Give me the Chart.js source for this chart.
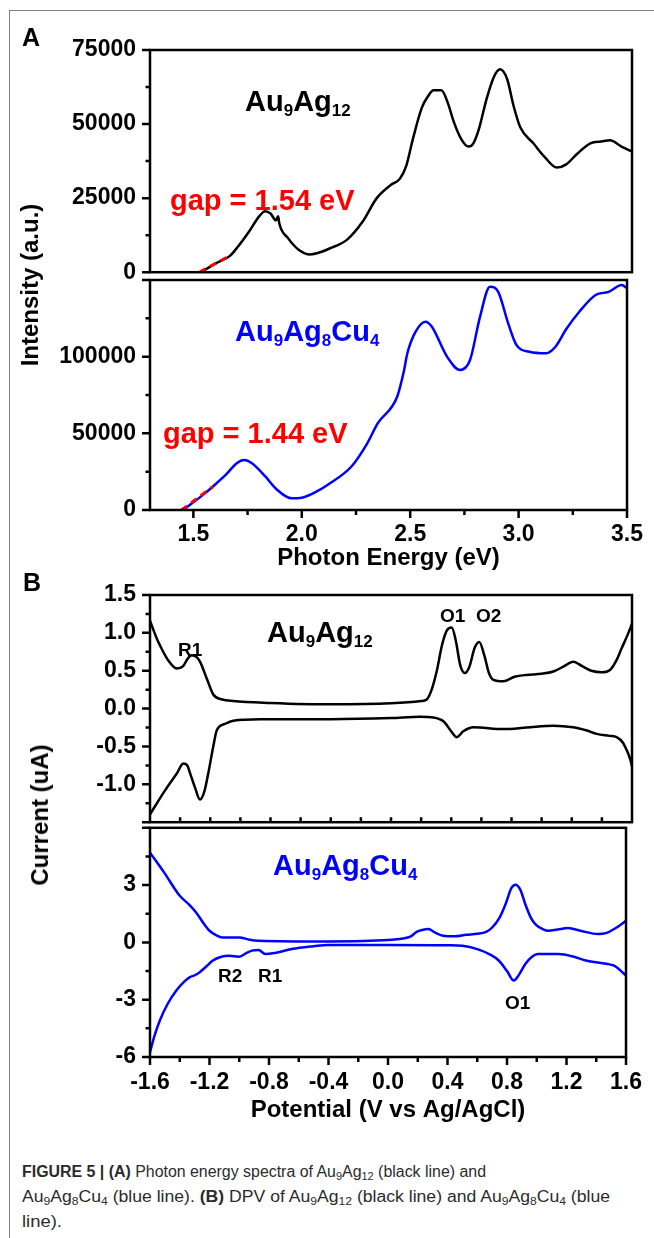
<!DOCTYPE html>
<html>
<head>
<meta charset="utf-8">
<script src="https://cdn.jsdelivr.net/npm/chart.js@4.4.0/dist/chart.umd.min.js"></script>
<style>
  html, body { margin: 0; padding: 0; background: #fff; }
  body { width: 654px; height: 1238px; position: relative; overflow: hidden;
         font-family: "Liberation Sans", Arial, Helvetica, sans-serif; }
  .frame { position: absolute; left: 9px; top: 10px; right: -2px; bottom: -2px;
           border-left: 1px solid #808080; border-top: 1px solid #808080; }
  canvas { position: absolute; left: 0; }
  .t { position: absolute; line-height: 0; white-space: nowrap; font-weight: bold; }
  .big sub { font-size: 17px; vertical-align: -5px; line-height: 0; }
  .yt { position: absolute; white-space: nowrap; font-weight: bold; font-size: 24px; line-height: 1;
        transform: translate(-50%, -50%) rotate(-90deg); }
  .cap { font-weight: normal; color: #2b2b2b; transform-origin: 0 0;
         font-family: "Liberation Sans Narrow", "Liberation Sans", Arial, sans-serif; }
  .cap b { font-weight: bold; }
  .cap sub { font-size: 11px; vertical-align: -3px; line-height: 0; }
</style>
</head>
<body>
<div class="frame"></div>
<canvas id="a1" width="654" height="300" style="top:0px"></canvas>
<canvas id="a2" width="654" height="330" style="top:250px"></canvas>
<canvas id="b1" width="654" height="290" style="top:560px"></canvas>
<canvas id="b2" width="654" height="340" style="top:800px"></canvas>
<script>
// ---------- data ----------

// panel A, x axis (photon energy, eV)
const energyTicks = [1.5, 2.0, 2.5, 3.0, 3.5];
const energyLabels = ['1.5', '2.0', '2.5', '3.0', '3.5'];
const energyMinor = [1.75, 2.25, 2.75, 3.25];

// panel A, y axes (intensity)
const au12IntTicks = [0, 25000, 50000, 75000];
const au12IntLabels = ['0', '25000', '50000', '75000'];
const au12IntMinor = [12500, 37500, 62500];
const cu4IntTicks = [0, 50000, 100000];
const cu4IntLabels = ['0', '50000', '100000'];
const cu4IntMarks = [0, 50000, 100000, 150000];
const cu4IntMinor = [25000, 75000, 125000];

// panel B, x axis (potential, V vs Ag/AgCl)
const potTicks = [-1.6, -1.2, -0.8, -0.4, 0, 0.4, 0.8, 1.2, 1.6];
const potLabels = ['-1.6', '-1.2', '-0.8', '-0.4', '0.0', '0.4', '0.8', '1.2', '1.6'];
const potMinor = [-1.4, -1.0, -0.6, -0.2, 0.2, 0.6, 1.0, 1.4];
const potInner = [-1.4, -1.2, -1.0, -0.8, -0.6, -0.4, -0.2, 0, 0.2, 0.4, 0.6, 0.8, 1.0, 1.2, 1.4];

// panel B, y axes (current, uA)
const au12CurTicks = [-1.0, -0.5, 0, 0.5, 1.0, 1.5];
const au12CurLabels = ['-1.0', '-0.5', '0.0', '0.5', '1.0', '1.5'];
const au12CurMarks = [-1.5, -1.0, -0.5, 0, 0.5, 1.0, 1.5];
const au12CurMinor = [-1.25, -0.75, -0.25, 0.25, 0.75, 1.25];
const cu4CurTicks = [-6, -3, 0, 3];
const cu4CurLabels = ['-6', '-3', '0', '3'];
const cu4CurMarks = [-6, -3, 0, 3, 6];
const cu4CurMinor = [-4.5, -1.5, 1.5, 4.5];

// Au9Ag12 photon energy spectrum
const au12Energy = [1.53, 1.56, 1.60, 1.665, 1.70, 1.75, 1.80, 1.825, 1.85, 1.875,
  1.885, 1.89, 1.93, 1.98, 2.03, 2.08, 2.12, 2.20, 2.27, 2.335,
  2.40, 2.44, 2.47, 2.50, 2.54, 2.57, 2.594, 2.63, 2.66, 2.685,
  2.72, 2.754, 2.776, 2.80, 2.837, 2.87, 2.898, 2.93, 2.96, 2.99,
  3.05, 3.10, 3.157, 3.20, 3.25, 3.31, 3.36, 3.40, 3.45, 3.50];
const au12Intensity = [0, 1200, 3000, 5500, 8500, 13500, 19000, 20600, 19800, 17500,
  18900, 16500, 11500, 7500, 6000, 6800, 8000, 11000, 17000, 25000,
  29500, 31500, 36000, 45000, 55400, 59500, 61400, 61400, 57000, 51100,
  45000, 42400, 43500, 48000, 58700, 66000, 68500, 65200, 56000, 48900,
  43500, 39000, 35300, 36400, 40000, 43500, 44100, 44500, 42500, 40750];
const au12GapEnergy = [1.525, 1.665];
const au12GapIntensity = [0, 5600];

// Au9Ag8Cu4 photon energy spectrum
const cu4Energy = [1.452, 1.50, 1.55, 1.589, 1.65, 1.70, 1.734, 1.77, 1.833, 1.88,
  1.954, 2.00, 2.08, 2.12, 2.228, 2.30, 2.35, 2.44, 2.47, 2.487,
  2.525, 2.571, 2.60, 2.67, 2.73, 2.776, 2.822, 2.868, 2.906, 2.952,
  2.99, 3.05, 3.127, 3.17, 3.22, 3.28, 3.355, 3.415, 3.476, 3.50];
const cu4Intensity = [0, 5000, 10500, 15200, 23000, 30500, 32600, 30500, 21700, 14000,
  7600, 8000, 13000, 16500, 28200, 43000, 56500, 73900, 90000, 102200,
  116300, 122800, 119500, 100000, 91300, 97800, 126000, 145600, 142300, 121700,
  107600, 103200, 102200, 106500, 118000, 129300, 140200, 142300, 146700, 144600];
const cu4GapEnergy = [1.445, 1.59];
const cu4GapIntensity = [0, 15200];

// Au9Ag12 DPV (upper = oxidation scan, lower = reduction scan)
const au12PotOx = [-1.60, -1.56, -1.534, -1.48, -1.423, -1.38, -1.35, -1.323, -1.29, -1.268,
  -1.22, -1.18, -1.12, -1.047, -0.80, -0.40, 0.00, 0.20, 0.237, 0.27,
  0.303, 0.34, 0.37, 0.403, 0.43, 0.46, 0.49, 0.52, 0.555, 0.586,
  0.62, 0.65, 0.68, 0.746, 0.82, 0.90, 1.00, 1.078, 1.15, 1.21,
  1.27, 1.33, 1.40, 1.454, 1.50, 1.53, 1.57, 1.60];
const au12CurOx = [1.16, 0.95, 0.835, 0.64, 0.53, 0.56, 0.66, 0.705, 0.68, 0.62,
  0.38, 0.186, 0.12, 0.10, 0.075, 0.056, 0.07, 0.10, 0.12, 0.25,
  0.49, 0.85, 1.03, 1.07, 0.90, 0.57, 0.47, 0.55, 0.80, 0.88,
  0.70, 0.47, 0.38, 0.36, 0.42, 0.445, 0.46, 0.49, 0.56, 0.62,
  0.56, 0.50, 0.48, 0.51, 0.65, 0.79, 0.97, 1.12];
const au12PotRed = [-1.60, -1.50, -1.42, -1.379, -1.35, -1.334, -1.30, -1.268, -1.24, -1.213,
  -1.18, -1.157, -1.10, -1.047, -0.87, -0.40, 0.00, 0.193, 0.28, 0.35,
  0.40, 0.437, 0.48, 0.547, 0.746, 0.90, 1.078, 1.21, 1.30, 1.366,
  1.45, 1.498, 1.54, 1.565, 1.59, 1.60];
const au12CurRed = [-1.395, -1.08, -0.85, -0.725, -0.76, -0.853, -1.05, -1.20, -1.10, -0.853,
  -0.50, -0.29, -0.20, -0.16, -0.14, -0.14, -0.125, -0.108, -0.117, -0.17,
  -0.30, -0.377, -0.30, -0.247, -0.27, -0.25, -0.225, -0.247, -0.29, -0.334,
  -0.36, -0.377, -0.45, -0.55, -0.68, -0.766];

// Au9Ag8Cu4 DPV
const cu4PotOx = [-1.60, -1.50, -1.40, -1.34, -1.29, -1.24, -1.20, -1.15, -1.113, -1.00,
  -0.93, -0.87, -0.40, 0.00, 0.10, 0.15, 0.193, 0.23, 0.27, 0.32,
  0.37, 0.45, 0.525, 0.60, 0.66, 0.70, 0.75, 0.79, 0.83, 0.857,
  0.89, 0.923, 0.96, 0.99, 1.04, 1.078, 1.14, 1.21, 1.30, 1.41,
  1.47, 1.52, 1.56, 1.60];
const cu4CurOx = [4.70, 3.6, 2.44, 2.0, 1.57, 1.0, 0.61, 0.35, 0.26, 0.26,
  0.14, 0.09, 0.05, 0.12, 0.20, 0.30, 0.55, 0.65, 0.70, 0.50,
  0.35, 0.32, 0.40, 0.45, 0.55, 0.78, 1.3, 2.0, 2.85, 3.02,
  2.75, 2.0, 1.3, 0.96, 0.70, 0.61, 0.68, 0.75, 0.60, 0.44,
  0.50, 0.70, 0.90, 1.13];
const cu4PotRed = [-1.60, -1.57, -1.534, -1.48, -1.423, -1.37, -1.334, -1.30, -1.268, -1.22,
  -1.18, -1.12, -1.069, -1.00, -0.95, -0.914, -0.87, -0.825, -0.76, -0.648,
  -0.50, -0.405, 0.00, 0.40, 0.50, 0.60, 0.68, 0.746, 0.80, 0.846,
  0.88, 0.923, 0.96, 1.01, 1.144, 1.25, 1.33, 1.41, 1.47, 1.52,
  1.56, 1.60];
const cu4CurRed = [-5.75, -4.9, -4.09, -3.2, -2.52, -2.05, -1.83, -1.72, -1.57, -1.25,
  -0.96, -0.75, -0.70, -0.75, -0.55, -0.43, -0.40, -0.61, -0.55, -0.35,
  -0.20, -0.13, -0.13, -0.15, -0.18, -0.35, -0.61, -0.96, -1.5, -2.0,
  -1.7, -1.13, -0.80, -0.61, -0.61, -0.75, -0.95, -1.05, -1.12, -1.22,
  -1.45, -1.74];

// ---------- chart setup ----------

Chart.defaults.font.family = '"Liberation Sans", Arial, Helvetica, sans-serif';
Chart.defaults.color = '#000';

const tickFont = { size: 23, weight: 'bold' };
const titleFont = { size: 24, weight: 'bold' };
const BLACK = '#000000', BLUE = '#0000ff', RED = '#ff0000';

// frame + tick marks, placed with the chart's own scales
const frameTicks = {
  id: 'frameTicks',
  afterDraw(chart, args, o) {
    const { ctx, chartArea: a, scales: { x, y } } = chart;
    ctx.save();
    ctx.strokeStyle = '#000';
    ctx.lineWidth = 2.5;
    ctx.beginPath();
    (o.yMajor || []).forEach(v => { const p = y.getPixelForValue(v); ctx.moveTo(a.left, p); ctx.lineTo(a.left - 8, p); });
    (o.yMinor || []).forEach(v => { const p = y.getPixelForValue(v); ctx.moveTo(a.left, p); ctx.lineTo(a.left - 4.5, p); });
    (o.xMajor || []).forEach(v => { const p = x.getPixelForValue(v); ctx.moveTo(p, a.bottom); ctx.lineTo(p, a.bottom + 8); });
    (o.xMinor || []).forEach(v => { const p = x.getPixelForValue(v); ctx.moveTo(p, a.bottom); ctx.lineTo(p, a.bottom + 5); });
    (o.xInner || []).forEach(v => { const p = x.getPixelForValue(v); ctx.moveTo(p, a.bottom); ctx.lineTo(p, a.bottom - 5); });
    ctx.stroke();
    ctx.strokeRect(a.left, a.top, a.right - a.left, a.bottom - a.top);
    ctx.restore();
  }
};

function pts(xs, ys) { return xs.map((x, i) => ({ x: x, y: ys[i] })); }

function series(xs, ys, color, dashed) {
  return {
    data: pts(xs, ys),
    borderColor: color,
    borderWidth: dashed ? 3 : 2.5,
    borderDash: dashed ? [7, 5] : [],
    pointRadius: 0,
    tension: 0,
    cubicInterpolationMode: dashed ? 'default' : 'monotone',
    fill: false
  };
}

function makePanel(id, o) {
  return new Chart(document.getElementById(id), {
    type: 'line',
    data: { datasets: o.datasets },
    options: {
      responsive: false,
      animation: false,
      events: [],
      layout: { padding: { left: 0, right: 22, top: o.padTop, bottom: o.padBottom } },
      plugins: { legend: { display: false }, tooltip: { enabled: false }, frameTicks: o.frame },
      scales: {
        x: {
          type: 'linear', min: o.xMin, max: o.xMax,
          afterBuildTicks: s => { s.ticks = o.xTicks.map(v => ({ value: v })); },
          afterFit: s => { s.height = o.xHeight; },
          grid: { display: false, drawTicks: false },
          border: { display: false },
          ticks: { display: !!o.xLabels, autoSkip: false, maxRotation: 0, padding: o.xPad || 0,
                   font: tickFont, callback: (v, i) => (o.xLabels ? o.xLabels[i] : '') },
          title: { display: !!o.xTitle, text: o.xTitle || '', font: titleFont, padding: { top: 4, bottom: 4 } }
        },
        y: {
          type: 'linear', min: o.yMin, max: o.yMax,
          afterBuildTicks: s => { s.ticks = o.yTicks.map(v => ({ value: v })); },
          afterFit: s => { s.width = 150; },
          grid: { display: false, drawTicks: false },
          border: { display: false },
          ticks: { autoSkip: false, padding: 14, font: tickFont, callback: (v, i) => o.yLabels[i] }
        }
      }
    },
    plugins: [frameTicks]
  });
}

// A, top: Au9Ag12
makePanel('a1', {
  padTop: 50, padBottom: 20, xHeight: 0,
  xMin: 1.3, xMax: 3.5, xTicks: energyTicks, xLabels: null,
  yMin: 0, yMax: 75000, yTicks: au12IntTicks, yLabels: au12IntLabels,
  frame: { yMajor: au12IntTicks, yMinor: au12IntMinor },
  datasets: [series(au12GapEnergy, au12GapIntensity, RED, true),
             series(au12Energy, au12Intensity, BLACK)]
});

// A, bottom: Au9Ag8Cu4
makePanel('a2', {
  padTop: 30, padBottom: 3, xHeight: 67, xPad: 11,
  xMin: 1.3, xMax: 3.5, xTicks: energyTicks, xLabels: energyLabels, xTitle: 'Photon Energy (eV)',
  yMin: 0, yMax: 150000, yTicks: cu4IntTicks, yLabels: cu4IntLabels,
  frame: { yMajor: cu4IntMarks, yMinor: cu4IntMinor, xMajor: energyTicks, xMinor: energyMinor },
  datasets: [series(cu4GapEnergy, cu4GapIntensity, RED, true),
             series(cu4Energy, cu4Intensity, BLUE)]
});

// B, top: Au9Ag12
makePanel('b1', {
  padTop: 35, padBottom: 23, xHeight: 0,
  xMin: -1.6, xMax: 1.6, xTicks: potTicks, xLabels: null,
  yMin: -1.5, yMax: 1.5, yTicks: au12CurTicks, yLabels: au12CurLabels,
  frame: { yMajor: au12CurMarks, yMinor: au12CurMinor, xInner: potInner },
  datasets: [series(au12PotOx, au12CurOx, BLACK), series(au12PotRed, au12CurRed, BLACK)]
});

// B, bottom: Au9Ag8Cu4
makePanel('b2', {
  padTop: 27, padBottom: 11, xHeight: 72, xPad: 12,
  xMin: -1.6, xMax: 1.6, xTicks: potTicks, xLabels: potLabels, xTitle: 'Potential (V vs Ag/AgCl)',
  yMin: -6, yMax: 6, yTicks: cu4CurTicks, yLabels: cu4CurLabels,
  frame: { yMajor: cu4CurMarks, yMinor: cu4CurMinor, xMajor: potTicks, xMinor: potMinor },
  datasets: [series(cu4PotOx, cu4CurOx, BLUE), series(cu4PotRed, cu4CurRed, BLUE)]
});

// ---------- text ----------

function addText(html, left, baseline, size, color, cls) {
  const d = document.createElement('div');
  d.className = 't ' + (cls || '');
  d.innerHTML = html;
  d.style.left = left + 'px';
  d.style.top = (baseline - 0.3465 * size) + 'px';
  d.style.fontSize = size + 'px';
  d.style.color = color;
  document.body.appendChild(d);
  return d;
}

function addYTitle(text, cx, cy) {
  const d = document.createElement('div');
  d.className = 'yt';
  d.textContent = text;
  d.style.left = cx + 'px';
  d.style.top = cy + 'px';
  document.body.appendChild(d);
}

addText('A', 22, 46, 25, BLACK);
addText('B', 23, 591, 25, BLACK);
addYTitle('Intensity (a.u.)', 30, 285);
addYTitle('Current (uA)', 40, 815);

addText('Au<sub>9</sub>Ag<sub>12</sub>', 245, 111, 29, BLACK, 'big');
addText('gap = 1.54 eV', 170, 210, 29, RED);
addText('Au<sub>9</sub>Ag<sub>8</sub>Cu<sub>4</sub>', 235, 341, 29, BLUE, 'big');
addText('gap = 1.44 eV', 163, 443, 29, RED);

addText('Au<sub>9</sub>Ag<sub>12</sub>', 267, 642, 29, BLACK, 'big');
addText('R1', 178, 657, 19, BLACK);
addText('O1', 440, 623, 19, BLACK);
addText('O2', 476, 623, 19, BLACK);
addText('Au<sub>9</sub>Ag<sub>8</sub>Cu<sub>4</sub>', 273, 875, 29, BLUE, 'big');
addText('R2', 218, 983, 19, BLACK);
addText('R1', 258, 983, 19, BLACK);
addText('O1', 505, 1010, 19, BLACK);

// caption, each line squeezed to the width it has in the original
const capLines = [
  '<b>FIGURE 5 | (A)</b> Photon energy spectra of Au<sub>9</sub>Ag<sub>12</sub> (black line) and',
  'Au<sub>9</sub>Ag<sub>8</sub>Cu<sub>4</sub> (blue line). <b>(B)</b> DPV of Au<sub>9</sub>Ag<sub>12</sub> (black line) and Au<sub>9</sub>Ag<sub>8</sub>Cu<sub>4</sub> (blue',
  'line).'
];
const capWidths = [464, 588, 40];
capLines.forEach((h, i) => {
  const el = addText(h, 22, 1178 + i * 25, 16, '#2b2b2b', 'cap');
  const k = capWidths[i] / el.getBoundingClientRect().width;
  el.style.transform = 'scaleX(' + k + ')';
});
</script>
</body>
</html>
